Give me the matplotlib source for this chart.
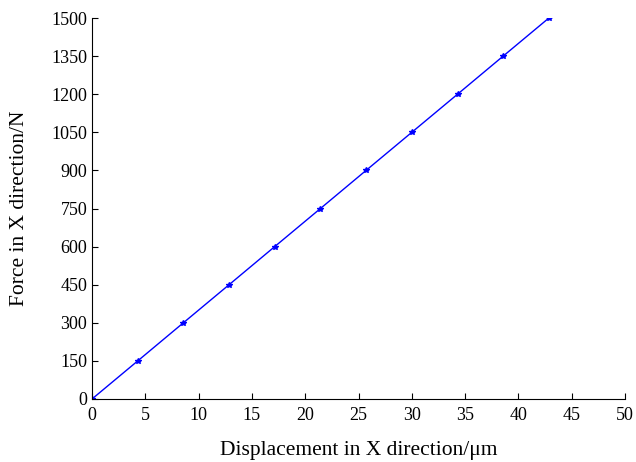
import matplotlib
matplotlib.use("Agg")
import matplotlib.pyplot as plt

# displacement (um) vs force (N)
displacement = [0, 4.29, 8.57, 12.86, 17.14, 21.43, 25.71, 30.0, 34.29, 38.57, 42.86]
force = [0, 150, 300, 450, 600, 750, 900, 1050, 1200, 1350, 1500]
xticks = [0, 5, 10, 15, 20, 25, 30, 35, 40, 45, 50]
yticks = [0, 150, 300, 450, 600, 750, 900, 1050, 1200, 1350, 1500]

plt.rcParams['font.family'] = ['Liberation Serif', 'DejaVu Serif']

fig = plt.figure(figsize=(6.36, 4.62), dpi=100)
ax = fig.add_axes([0.1447, 0.1364, 0.838, 0.8246])

ax.plot(displacement, force, color='blue', linewidth=1.0, marker='*', markersize=4)

ax.set_xlim(0, 50)
ax.set_ylim(0, 1500)
ax.set_xticks(xticks)
ax.set_yticks(yticks)
ax.tick_params(direction='in', labelsize=13, length=4, width=0.8)
ax.tick_params(axis='x', pad=6)
ax.spines['top'].set_visible(False)
ax.spines['right'].set_visible(False)

ax.set_xlabel('Displacement in X direction/μm', fontsize=15.5, labelpad=12)
ax.set_ylabel('Force in X direction/N', fontsize=15.5, labelpad=16)

fig.savefig('out.png', dpi=100)
